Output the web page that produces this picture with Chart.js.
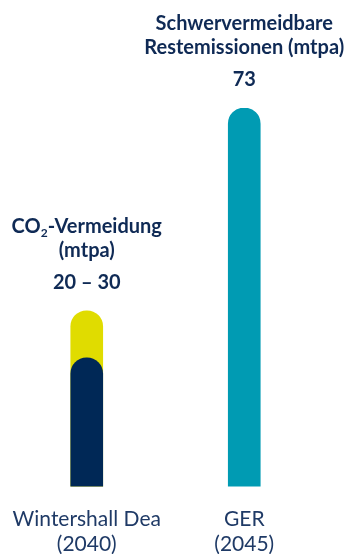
<!DOCTYPE html>
<html>
<head>
<meta charset="utf-8">
<script src="https://cdn.jsdelivr.net/npm/chart.js@4"></script>
<style>
  html, body { margin: 0; padding: 0; background: #ffffff; }
  #wrap { width: 351px; height: 554px; position: relative; }
</style>
</head>
<body>
<div id="wrap"><canvas id="c"></canvas></div>
<script>
// ---- data ----
const categories = [["Wintershall Dea", "(2040)"], ["GER", "(2045)"]];
const avoidanceLow = [20, null];     // CO2-Vermeidung lower bound (mtpa)
const avoidanceHigh = [30, null];    // CO2-Vermeidung upper bound (mtpa)
const residualEmissions = [null, 73]; // Schwervermeidbare Restemissionen (mtpa)
const headLines = [["CO|2|-Vermeidung", "(mtpa)"], ["Schwervermeidbare", "Restemissionen (mtpa)"]];
const valueLabels = ["20 \u2013 30", "73"];

const NAVY = '#002856';
const TEXT = '#0f2a55';
const FONT = 'Lato, "Open Sans", sans-serif';
const axisFloor = -7.3;
const radius = { topLeft: 16, topRight: 16, bottomLeft: 0, bottomRight: 0 };

const headPlugin = {
  id: 'heads',
  afterDatasetsDraw(chart) {
    const ctx = chart.ctx;
    categories.forEach((c, i) => {
      let top = Infinity, x = null;
      chart.data.datasets.forEach((ds, di) => {
        const el = chart.getDatasetMeta(di).data[i];
        if (el && ds.data[i] != null) { top = Math.min(top, el.y); x = el.x; }
      });
      if (x == null) return;
      ctx.save();
      ctx.fillStyle = TEXT;
      ctx.textBaseline = 'middle';
      ctx.textAlign = 'left';
      // value
      ctx.font = 'bold 20px ' + FONT;
      let w = ctx.measureText(valueLabels[i]).width;
      ctx.fillText(valueLabels[i], x - w / 2, top - 28);
      // heading lines
      const lines = headLines[i];
      const offs = [-84, -60];
      lines.forEach((ln, li) => {
        const parts = ln.split('|');
        const fonts = parts.map((p, pi) => (parts.length === 3 && pi === 1) ? 'bold 12px ' + FONT : 'bold 20px ' + FONT);
        let total = 0;
        parts.forEach((p, pi) => { ctx.font = fonts[pi]; total += ctx.measureText(p).width; });
        let cx = x - total / 2;
        parts.forEach((p, pi) => {
          ctx.font = fonts[pi];
          const dy = (parts.length === 3 && pi === 1) ? 6 : 0;
          ctx.fillText(p, cx, top + offs[li] + dy);
          cx += ctx.measureText(p).width;
        });
      });
      ctx.restore();
    });
  }
};

new Chart(document.getElementById('c'), {
  type: 'bar',
  data: {
    labels: categories,
    datasets: [
      { label: 'CO2-Vermeidung (untere Grenze)', data: avoidanceLow, backgroundColor: NAVY,
        borderRadius: radius, borderSkipped: false, base: axisFloor },
      { label: 'CO2-Vermeidung (obere Grenze)', data: avoidanceHigh, backgroundColor: '#e0dc00',
        borderRadius: radius, borderSkipped: false, base: axisFloor },
      { label: 'Schwervermeidbare Restemissionen', data: residualEmissions, backgroundColor: '#009bb3',
        borderRadius: radius, borderSkipped: false, base: axisFloor }
    ]
  },
  options: {
    responsive: true,
    maintainAspectRatio: false,
    animation: false,
    layout: { padding: { top: 108, left: 8, right: 28, bottom: -23 } },
    plugins: { legend: { display: false }, tooltip: { enabled: false } },
    datasets: { bar: { barThickness: 32 } },
    scales: {
      x: {
        stacked: true,
        grid: { display: false, drawTicks: false },
        border: { display: false },
        ticks: { color: '#1f3a66', font: { family: FONT, size: 21, lineHeight: 1.2 }, padding: 20 },
        afterFit(scale) { scale.paddingLeft = 0; scale.paddingRight = 0; }
      },
      y: {
        display: false,
        stacked: false,
        min: axisFloor,
        max: 73
      }
    }
  },
  plugins: [headPlugin]
});
</script>
</body>
</html>
